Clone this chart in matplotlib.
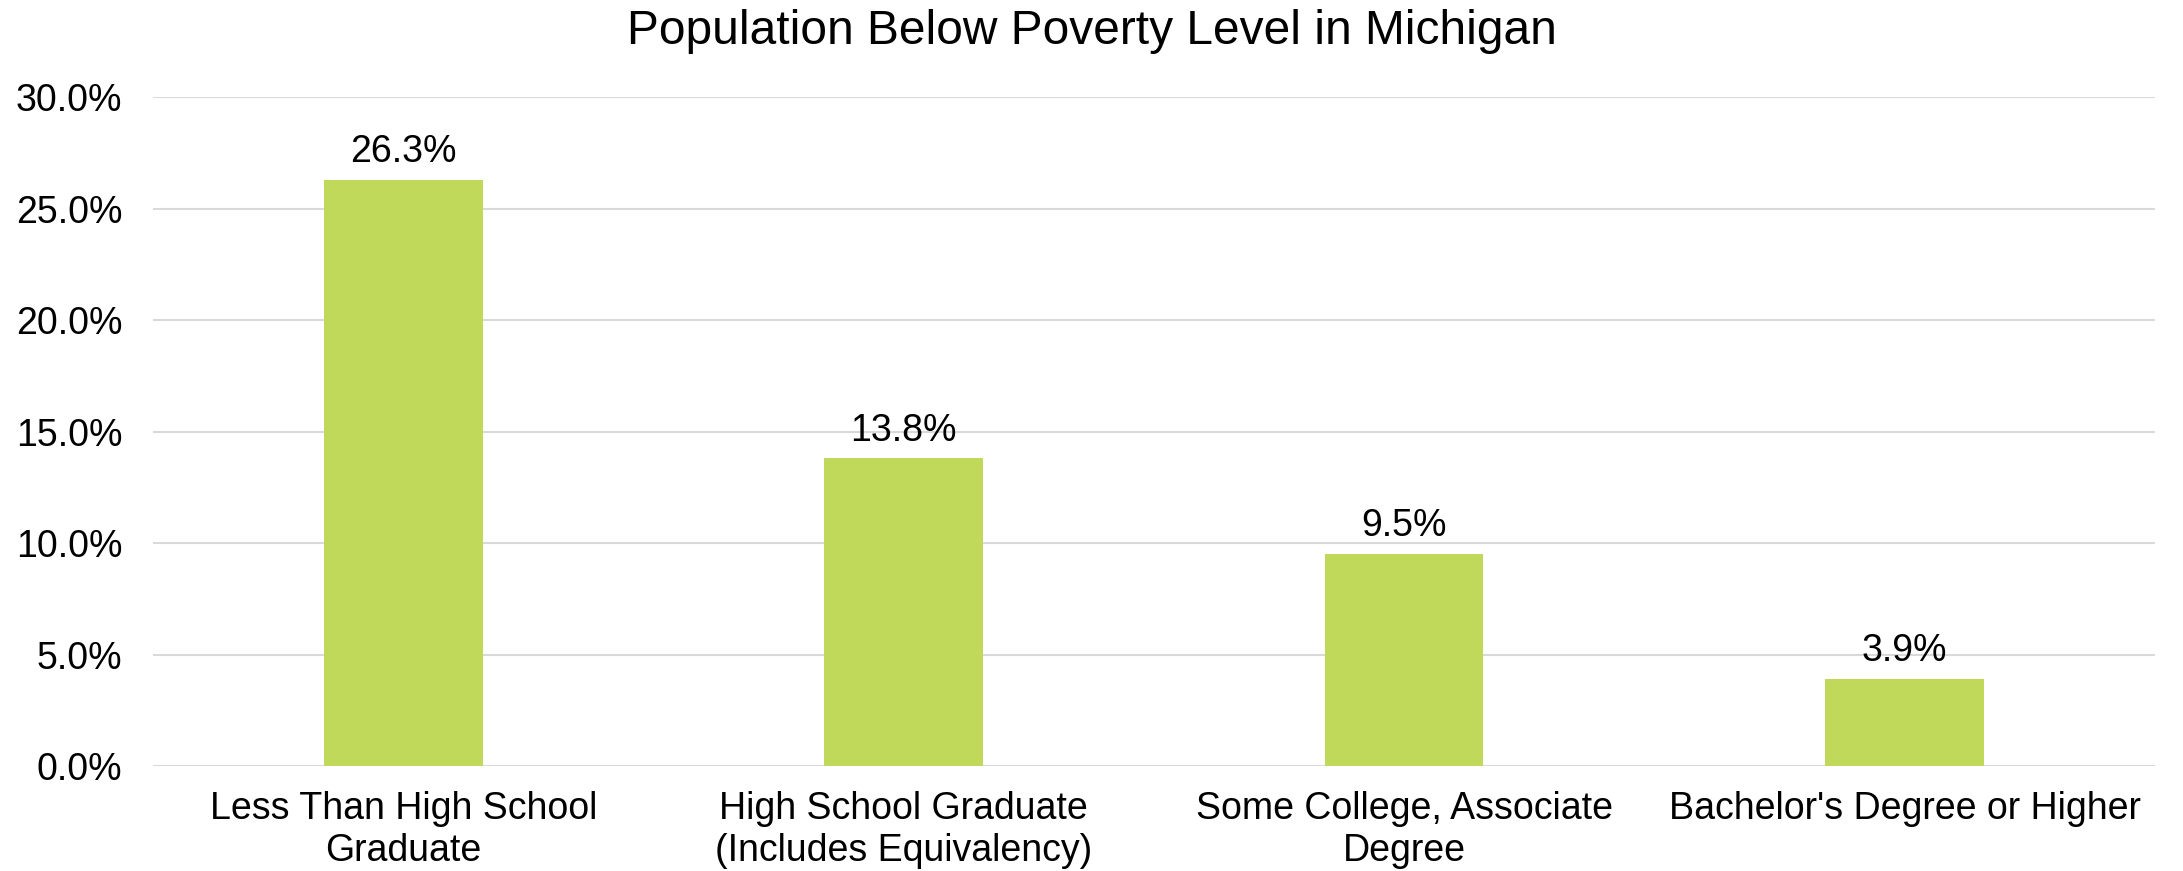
import matplotlib.pyplot as plt
from matplotlib.ticker import PercentFormatter

# ---- data ----
categories = ["Less Than High School\nGraduate",
              "High School Graduate\n(Includes Equivalency)",
              "Some College, Associate\nDegree",
              "Bachelor's Degree or Higher"]
poverty_pct = [26.3, 13.8, 9.5, 3.9]
y_ticks = [0, 5, 10, 15, 20, 25, 30]

bar_color = "#C1D95B"
grid_color = "#D9D9D9"

plt.rcParams['font.family'] = ['Liberation Sans', 'DejaVu Sans']

fig = plt.figure(figsize=(21.83, 8.71), dpi=100)
ax = fig.add_axes([0.0701, 0.1205, 0.917, 0.7681])

x = range(len(categories))
bars = ax.bar(x, poverty_pct, width=0.317, color=bar_color, zorder=3)

ax.set_xlim(-0.5, len(categories) - 0.5)
ax.set_ylim(0, 30)
ax.set_yticks(y_ticks)
ax.yaxis.set_major_formatter(PercentFormatter(decimals=1))
ax.set_xticks(list(x))
ax.set_xticklabels(categories, fontsize=27, linespacing=1.22)
ax.tick_params(axis='y', labelsize=27, length=0, pad=22)
ax.tick_params(axis='x', length=0, pad=18)

ax.grid(axis='y', color=grid_color, linewidth=1.5, zorder=0)
for s in ax.spines.values():
    s.set_visible(False)

# value labels over bars
for bar, val in zip(bars, poverty_pct):
    ax.annotate(f"{val:.1f}%", (bar.get_x() + bar.get_width() / 2, val),
                xytext=(0, 7), textcoords='offset points',
                ha='center', va='bottom', fontsize=27)

fig.suptitle("Population Below Poverty Level in Michigan", fontsize=34.5, y=0.99)

fig.savefig("out.png", dpi=100)
